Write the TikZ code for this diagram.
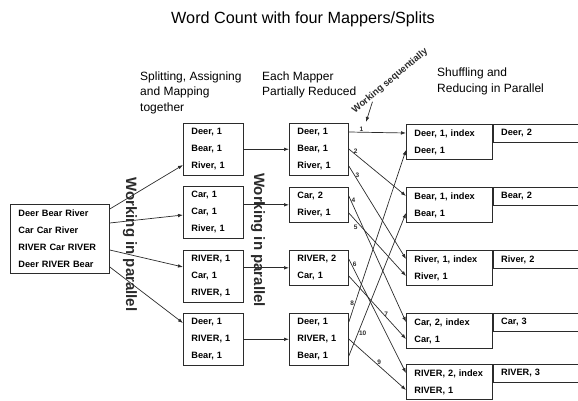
\documentclass[tikz,border=0pt]{standalone}
\usepackage{fontspec}
\setmainfont{Liberation Sans}
\usepackage{tikz}
\usetikzlibrary{arrows.meta,positioning,calc}
\tikzset{every node/.append style={align=left}}
\definecolor{inkgray}{HTML}{2B2B2B}

\begin{document}
\begin{tikzpicture}[x=1pt,y=-1pt,
  wbox/.style={draw=inkgray, line width=0.8pt, anchor=north west, inner xsep=8pt, inner ysep=5pt, font=\bfseries\fontsize{9.2}{17}\selectfont},
  rbox/.style={draw=inkgray, line width=0.8pt, anchor=north west, inner xsep=8pt, inner ysep=0pt, minimum height=18pt, text width=110pt, font=\bfseries\fontsize{9.2}{17}\selectfont},
  flow/.style={draw=inkgray, line width=0.7pt, -{Latex[length=5pt,width=3.6pt]}},
  num/.style={font=\bfseries\fontsize{6.5}{7}\selectfont, inner sep=0.8pt, text=inkgray},
  head/.style={anchor=north west, inner sep=0pt, font=\fontsize{12}{15.5}\selectfont},
  parlabel/.style={rotate=-90, font=\bfseries\fontsize{15}{18}\selectfont, text=inkgray}]
  \useasboundingbox (0,0) rectangle (578,401);
  \clip (0,0) rectangle (578,401);

  \node[anchor=base, align=center, font=\fontsize{16.2}{19}\selectfont] (title) at (303,23.3) {Word Count with four Mappers/Splits};
  \node[head] (h1) at (140,71.5) {Splitting, Assigning\\and Mapping\\together};
  \node[head] (h2) at (262,71.5) {Each Mapper\\Partially Reduced};
  \node[head] (h3) at (437,68) {Shuffling and\\Reducing in Parallel};

  \node[wbox, text width=83pt, minimum height=69pt] (input) at (10,204) {Deer Bear River\\Car Car River\\RIVER Car RIVER\\Deer RIVER Bear};

  \foreach \k/\t/\txt in {1/123/{Deer, 1\\Bear, 1\\River, 1},2/186/{Car, 1\\Car, 1\\River, 1},3/250/{RIVER, 1\\Car, 1\\RIVER, 1},4/313/{Deer, 1\\RIVER, 1\\Bear, 1}}
    \node[wbox, text width=44pt] (m\k) at (183,\t) {\txt};
  \foreach \k/\t/\txt in {1/123/{Deer, 1\\Bear, 1\\River, 1},2/187/{Car, 2\\River, 1},3/250/{RIVER, 2\\Car, 1},4/313/{Deer, 1\\RIVER, 1\\Bear, 1}}
    \node[wbox, text width=43pt] (r\k) at (289,\t) {\txt};
  \foreach \k/\t/\txt/\res in {1/124/{Deer, 1, index\\Deer, 1}/{Deer, 2},2/187/{Bear, 1, index\\Bear, 1}/{Bear, 2},3/250/{River, 1, index\\River, 1}/{River, 2},4/313/{Car, 2, index\\Car, 1}/{Car, 3},5/364/{RIVER, 2, index\\RIVER, 1}/{RIVER, 3}}{
    \node[wbox, text width=70pt] (s\k) at (406,\t) {\txt};
    \node[rbox] (t\k) at (s\k.north east) {\res};
  }

  \node[parlabel] (wp1) at (130,244.5) {Working in parallel};
  \node[parlabel] (wp2) at (258,240) {Working in parallel};
  \node[rotate=40, inner sep=0pt, font=\bfseries\fontsize{9.5}{11}\selectfont, text=inkgray] (ws) at (390,81) {Working sequentially};
  \coordinate (tip) at (366,122);
  \draw[flow] ($(ws.south west)!0.22!(ws.south east)$) -- (tip);

  \foreach \k/\a/\b in {1/5/42,2/19/29,3/46/17,4/63/10}
    \draw[flow] ([yshift=-\a*1pt]input.north east) -- ([yshift=-\b*1pt]m\k.north west);
  \foreach \k in {1,...,4}
    \draw[flow] (m\k.east |- r\k.west) -- (r\k.west);

  \foreach \a/\i/\b/\j/\n/\p/\w in {r1/9/s1/9/1/.22/above,r1/26/s2/9/2/.12/above,r1/43/s3/9/3/.1/right,r2/9/s4/9/4/.03/right,r2/26/s3/26/5/.17/below left,r3/9/s5/9/6/.05/right,r3/26/s4/26/7/.6/right,r4/9/s1/26/8/.11/left,r4/26/s5/26/9/.53/above,r4/43/s2/26/10/.16/right}
    \draw[flow] ([yshift=-\i*1pt]\a.north east) -- node[num, pos=\p, \w] {\n} ([yshift=-\j*1pt]\b.north west);
\end{tikzpicture}
\end{document}
